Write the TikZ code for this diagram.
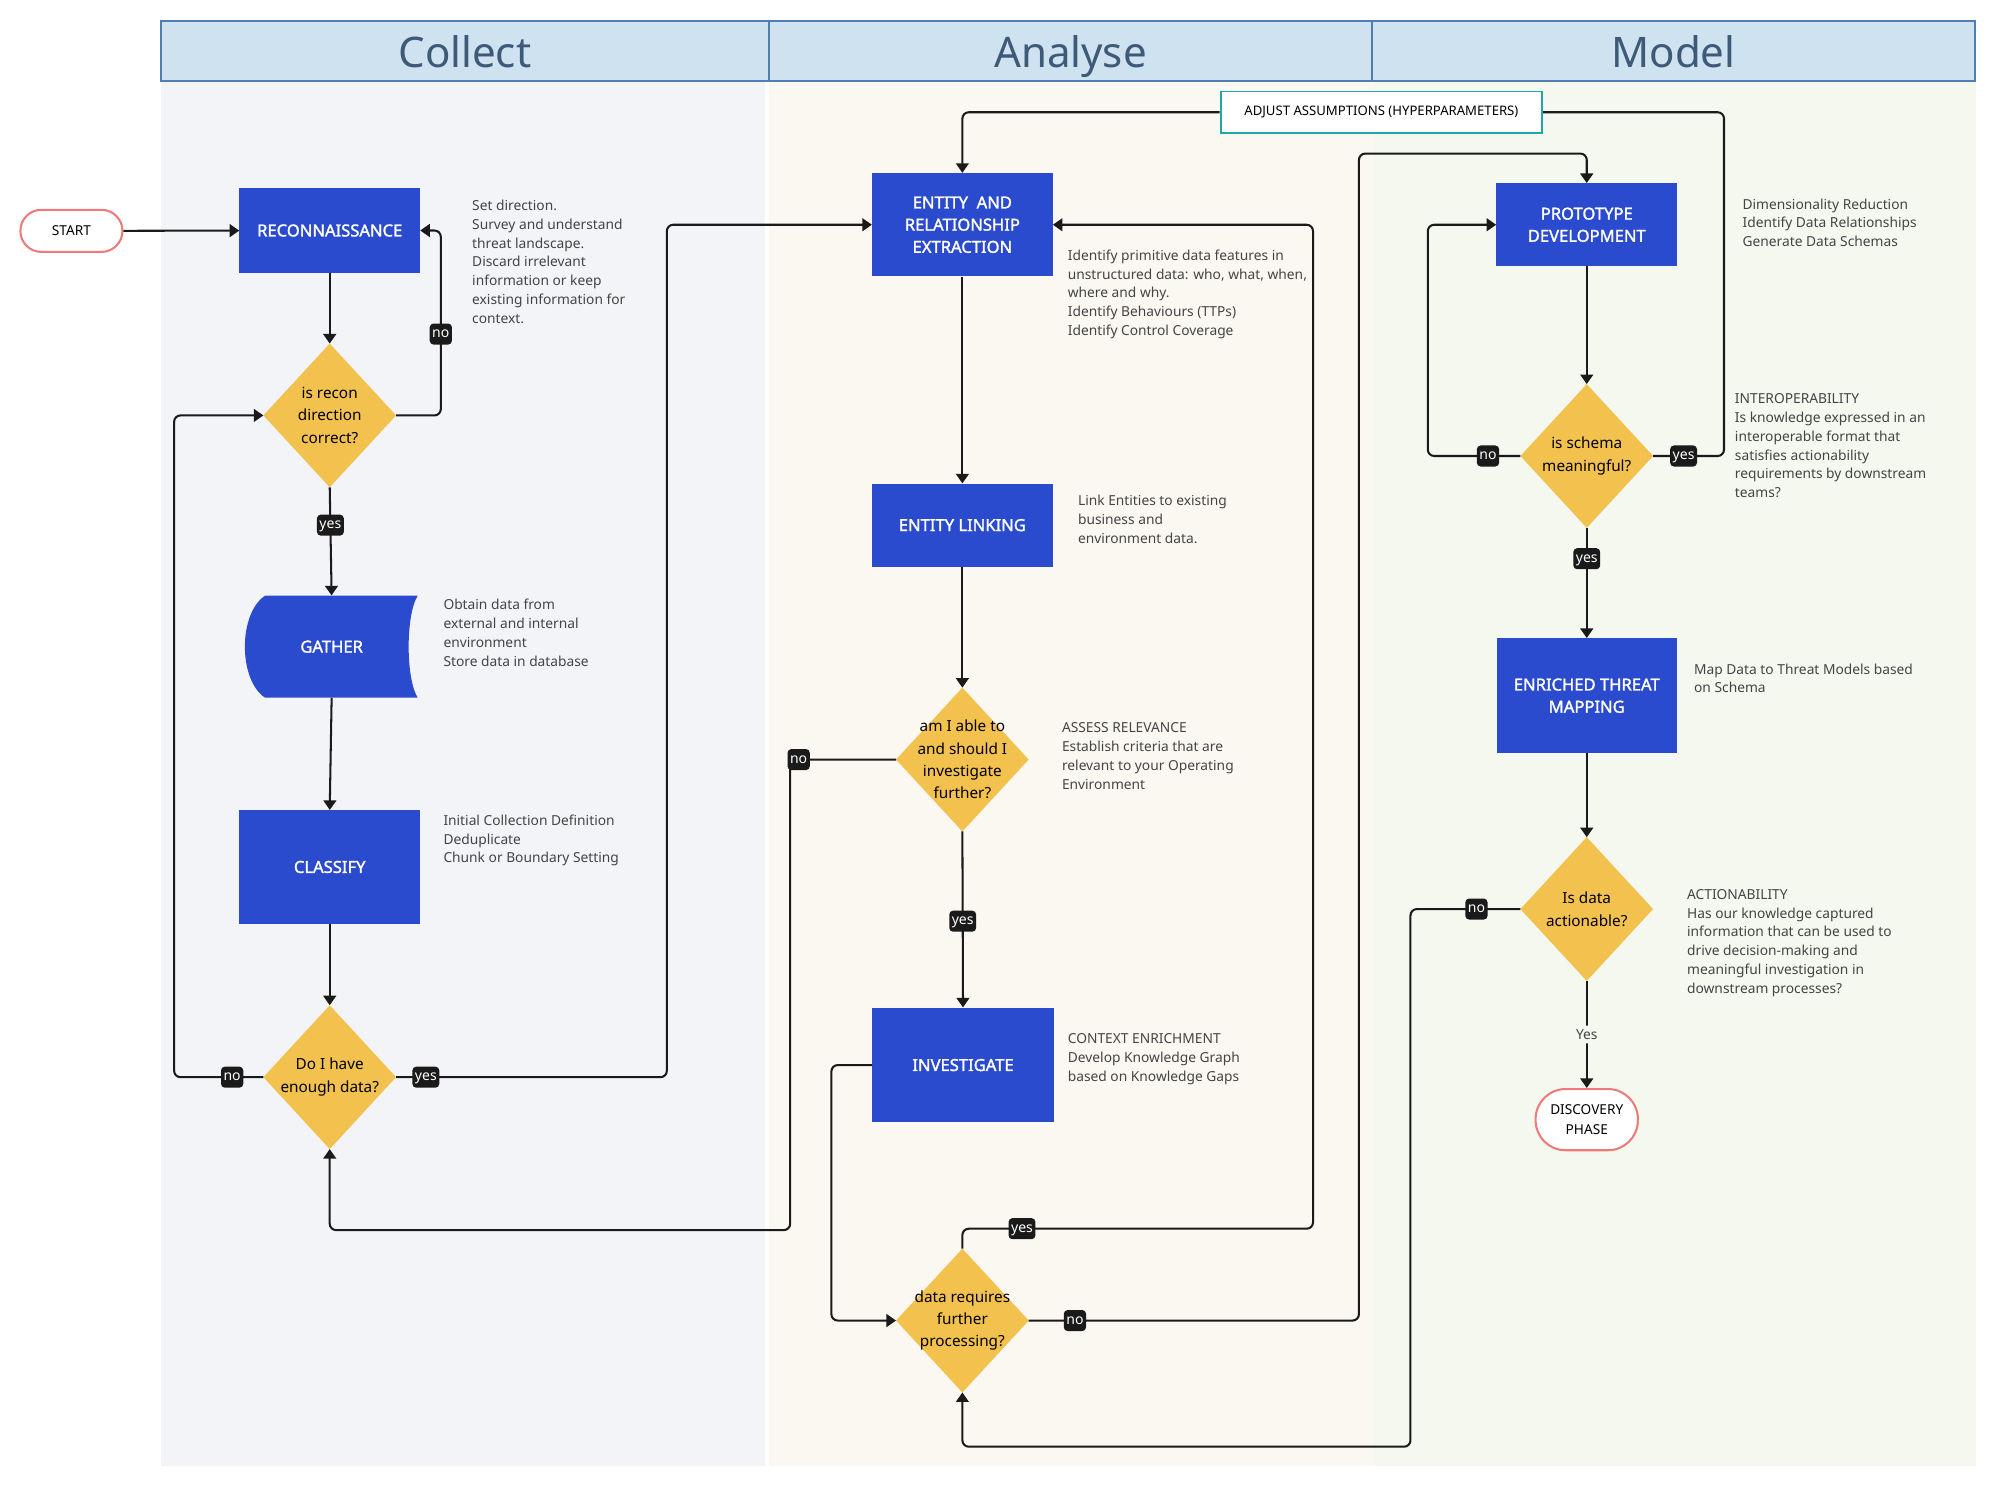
\documentclass[tikz,border=0pt]{standalone}
\usepackage{fontspec}
\setmainfont{Noto Sans}[AutoFakeBold=1.6]
\usepackage{tikz}
\usetikzlibrary{arrows.meta,shapes.geometric,positioning}

\definecolor{procblue}{HTML}{2B4BCF}
\definecolor{decyellow}{HTML}{F2C14E}
\definecolor{termred}{HTML}{F07A7A}
\definecolor{adjteal}{HTML}{1FA8A8}
\definecolor{headfill}{HTML}{CFE2F0}
\definecolor{headline}{HTML}{4F7EB3}
\definecolor{headtext}{HTML}{3D5A78}
\definecolor{collectbg}{HTML}{F3F4F8}
\definecolor{analysebg}{HTML}{FAF8F0}
\definecolor{modelbg}{HTML}{F5F8EE}
\definecolor{desctext}{HTML}{444444}
\definecolor{lblfill}{HTML}{1A1A1A}
\definecolor{flowline}{HTML}{1A1A1A}

\begin{document}
\begin{tikzpicture}[x=1pt,y=-1pt,
font=\fontsize{10.8}{14.75}\selectfont,
process/.style={rectangle,fill=procblue,text=white,align=center,inner sep=0pt,
  minimum width=141.5pt,minimum height=65pt,font=\fontsize{13}{17.4}\selectfont\bfseries},
decision/.style={diamond,fill=decyellow,inner sep=0pt,outer sep=0pt,
  minimum width=104pt,minimum height=112.7pt},
dtext/.style={align=center,text=black,font=\fontsize{12}{17.6}\selectfont},
terminal/.style={rectangle,draw=termred,line width=1.6pt,fill=white,align=center,
  font=\fontsize{10.7}{15}\selectfont},
desc/.style={anchor=base west,inner sep=0pt,align=left,text=desctext},
lbl/.style={fill=lblfill,text=white,rounded corners=3pt,inner xsep=2pt,inner ysep=3pt,
  text height=8pt,text depth=2.5pt,font=\fontsize{11}{11}\selectfont},
yestext/.style={fill=modelbg,text=desctext,inner sep=3pt,font=\fontsize{10.8}{10.8}\selectfont},
flow/.style={line width=1.6pt,draw=flowline,rounded corners=5pt},
oneway/.style={flow,-{Triangle[length=7.5pt,width=10pt]}},
lanehead/.style={rectangle,draw=headline,line width=1.5pt,fill=headfill,text=headtext,
  minimum height=47.3pt,inner sep=0pt,text height=26.9pt,text depth=0pt,
  font=\fontsize{33}{33}\selectfont}
]
    % Page and lanes
    \useasboundingbox (0,0) rectangle (1568,1166.6);
    \fill[white] (0,0) rectangle (1568,1166.6);
    \fill[collectbg] (126,63.5) rectangle (599.5,1149);
    \fill[analysebg] (603,63.5) rectangle (1077,1149);
    \fill[modelbg] (1077,63.5) rectangle (1549,1149);

    \node[lanehead,minimum width=477pt] (collecthead) at (364.5,39.85) {Collect};
    \node[lanehead,minimum width=472.5pt] (analysehead) at (839.25,39.85) {Analyse};
    \node[lanehead,minimum width=473pt] (modelhead) at (1312,39.85) {Model};

    % Collect
    \node[terminal,minimum width=80pt,minimum height=33pt,rounded corners=16.4pt] (start) at (56,181) {START};
    \node[process,minimum height=66pt] (recon) at (258.5,180.7) {RECONNAISSANCE};
    \node[decision,label={[dtext]center:is recon\\direction\\correct?}] (recok) at (258.5,325.7) {};
    \fill[procblue] (207.8,467) -- (327.5,467) .. controls (318,482) and (318,532) .. (327.5,547)
        -- (207.8,547) .. controls (186.7,533) and (186.7,481) .. cycle;
    \node[inner sep=0pt,minimum width=120pt,minimum height=80pt,text=white,
        font=\fontsize{13}{17.4}\selectfont\bfseries] (gather) at (260,507) {GATHER};
    \node[process,minimum height=89pt] (classify) at (258.5,679.7) {CLASSIFY};
    \node[decision,label={[dtext]center:Do I have\\enough data?}] (enough) at (258.5,844.5) {};

    \node[desc] (recondesc) at (370,253.5) {Set direction.\\Survey and understand\\threat landscape.\\Discard irrelevant\\information or keep\\existing information for\\context.};
    \node[desc] (gatherdesc) at (347.5,522.25) {Obtain data from\\external and internal\\environment\\Store data in database};
    \node[desc] (classifydesc) at (347.5,676.5) {Initial Collection Definition\\Deduplicate\\Chunk or Boundary Setting};

    % Analyse
    \node[draw=adjteal,line width=1.5pt,fill=white,minimum width=252pt,minimum height=32.5pt,
        inner sep=0pt,font=\fontsize{10.3}{10.3}\selectfont] (adjust) at (1083,88) {ADJUST ASSUMPTIONS (HYPERPARAMETERS)};
    \node[process,minimum height=81pt] (entity) at (754.5,176.2) {ENTITY\ \ AND\\RELATIONSHIP\\EXTRACTION};
    \node[process] (linking) at (754.5,411.7) {ENTITY LINKING};
    \node[decision,label={[dtext]center:am I able to\\and should I\\investigate\\further?}] (further) at (754.5,595.5) {};
    \node[process,minimum width=142pt,minimum height=90pt] (investigate) at (755,835) {INVESTIGATE};
    \node[decision,label={[dtext]center:data requires\\further\\processing?}] (processing) at (754.5,1035.3) {};

    \node[desc] (entitydesc) at (837,263) {Identify primitive data features in\\unstructured data: who, what, when,\\where and why.\\Identify Behaviours (TTPs)\\Identify Control Coverage};
    \node[desc] (linkingdesc) at (845,426) {Link Entities to existing\\business and\\environment data.};
    \node[desc] (furtherdesc) at (832.4,618.75) {ASSESS RELEVANCE\\Establish criteria that are\\relevant to your Operating\\Environment};
    \node[desc] (investigatedesc) at (837,847.5) {CONTEXT ENRICHMENT\\Develop Knowledge Graph\\based on Knowledge Gaps};

    % Model
    \node[process,minimum width=141.6pt] (proto) at (1244,176.2) {PROTOTYPE\\DEVELOPMENT};
    \node[decision,label={[dtext]center:is schema\\meaningful?}] (schema) at (1244,357.5) {};
    \node[process,minimum height=90pt] (enriched) at (1244,545.4) {ENRICHED THREAT\\MAPPING};
    \node[decision,label={[dtext]center:Is data\\actionable?}] (actionable) at (1244,712.7) {};
    \node[terminal,minimum width=80.2pt,minimum height=48pt,rounded corners=23.5pt] (discovery) at (1244,877.8) {DISCOVERY\\PHASE};

    \node[desc] (protodesc) at (1366,193.5) {Dimensionality Reduction\\Identify Data Relationships\\Generate Data Schemas};
    \node[desc] (schemadesc) at (1360,390.25) {INTEROPERABILITY\\Is knowledge expressed in an\\interoperable format that\\satisfies actionability\\requirements by downstream\\teams?};
    \node[desc] (enricheddesc) at (1328,543.25) {Map Data to Threat Models based\\on Schema};
    \node[desc] (actionabledesc) at (1322.5,778.75) {ACTIONABILITY\\Has our knowledge captured\\information that can be used to\\drive decision-making and\\meaningful investigation in\\downstream processes?};

    % Connectors in Collect
    \draw[oneway] (start) -- (recon);
    \draw[oneway] (recon) -- (recok);
    \draw[oneway] (recok.east) -- (345.6,325.7) |- node[lbl,pos=0.22]{no} (recon.east);
    \draw[oneway] (recok.south) -- node[lbl,pos=0.35]{yes} (gather.north);
    \draw[oneway] (gather.south) -- (classify.north);
    \draw[oneway] (classify) -- (enough);
    \draw[oneway] (enough.west) -- node[lbl,pos=0.35]{no} (136.5,844.5) |- (recok.west);
    \draw[oneway] (enough.east) -- node[lbl,pos=0.11]{yes} (522.8,844.5) |- (entity.west);

    % Connectors in Analyse
    \draw[oneway] (adjust.west) -| (entity.north);
    \draw[flow] (schema.east) -- node[lbl,pos=0.43]{yes} (1351.6,357.5) |- (adjust.east);
    \draw[oneway] (entity) -- (linking);
    \draw[oneway] (linking) -- (further);
    \draw[oneway] (further.west) -- node[lbl,pos=0.92]{no} (619.5,595.5) -- (619.5,964.4) -| (enough.south);
    \draw[oneway] (further.south) -- node[lbl,pos=0.51]{yes} (investigate.north);
    \draw[oneway] (investigate.west) -- (651.8,835) |- (processing.west);
    \draw[oneway] (processing.north) -- (754.5,963.3) -- node[lbl,pos=0.17]{yes} (1029.4,963.3) |- (entity.east);
    \draw[oneway] (processing.east) -- node[lbl,pos=0.14]{no} (1065.4,1035.3) -- (1065.4,120.4) -| (proto.north);

    % Connectors in Model
    \draw[oneway] (proto) -- (schema);
    \draw[oneway] (schema.west) -- node[lbl,pos=0.35]{no} (1119.4,357.5) |- (proto.west);
    \draw[oneway] (schema.south) -- node[lbl,pos=0.28]{yes} (enriched.north);
    \draw[oneway] (enriched) -- (actionable);
    \draw[oneway] (actionable.west) -- node[lbl,pos=0.4]{no} (1105.8,712.7) -- (1105.8,1134.2) -| (processing.south);
    \draw[oneway] (actionable.south) -- node[yestext]{Yes} (discovery.north);

\end{tikzpicture}
\end{document}
